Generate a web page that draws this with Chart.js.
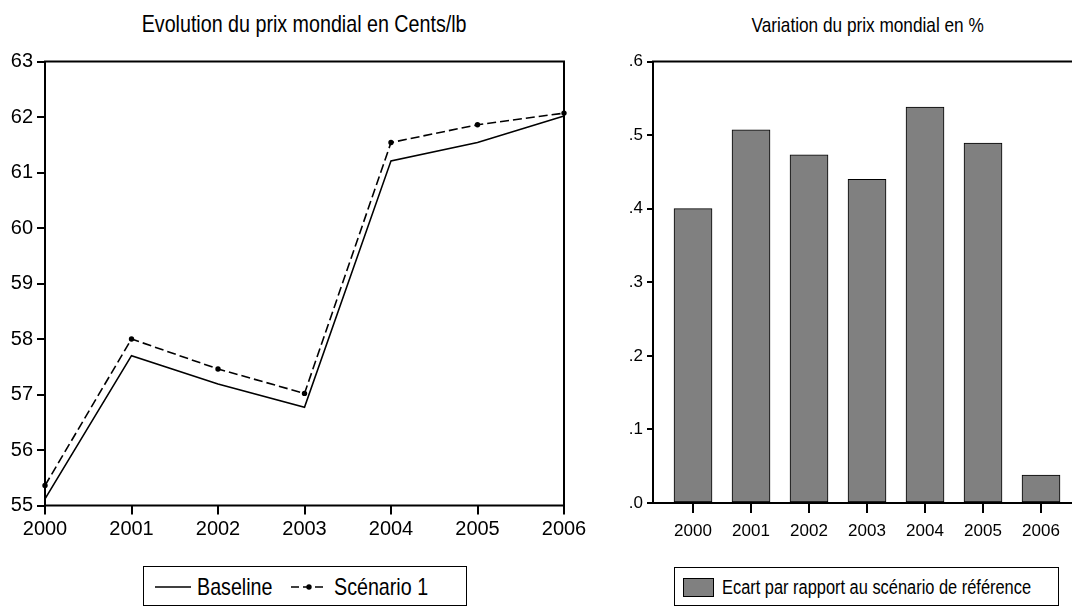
<!DOCTYPE html>
<html>
<head>
<meta charset="utf-8">
<script src="https://cdn.jsdelivr.net/npm/chart.js@4.4.1/dist/chart.umd.min.js"></script>
<style>
  html, body { margin: 0; padding: 0; background: #fff; }
  body { width: 1072px; height: 607px; position: relative; overflow: hidden;
         font-family: "Liberation Sans", Arial, sans-serif; color: #000; }
  canvas { position: absolute; top: 0; }
  .title { position: absolute; white-space: nowrap; line-height: 1; text-align: center; }
  .narrow { display: inline-block; transform: scaleX(0.82); white-space: nowrap; line-height: 1; }
  .title .narrow { transform-origin: center; }
  .legend { position: absolute; border: 1px solid #000; box-sizing: border-box; background: #fff; }
  .legend span, .legend svg, .legend i { position: absolute; }
  .legend span.narrow { transform-origin: left; }
</style>
</head>
<body>
<div class="title" style="left:45px; width:519px; top:12px; font-size:24px;"><span class="narrow">Evolution du prix mondial en Cents/lb</span></div>
<canvas id="left" width="600" height="560" style="left:0"></canvas>
<div class="legend" style="left:143px; top:566px; width:324px; height:40px;">
  <svg style="left:11px; top:19px" width="36" height="2"><line x1="0" y1="1" x2="36" y2="1" stroke="#000" stroke-width="1.5"/></svg>
  <span class="narrow" style="left:53px; top:8px; font-size:24px;">Baseline</span>
  <svg style="left:147px; top:16px" width="36" height="8"><line x1="0" y1="4" x2="36" y2="4" stroke="#000" stroke-width="1.5" stroke-dasharray="8,4"/><circle cx="18" cy="4" r="2.7" fill="#000"/></svg>
  <span class="narrow" style="left:190px; top:8px; font-size:24px;">Scénario 1</span>
</div>

<div class="title" style="left:653px; width:430px; top:14px; font-size:21px;"><span class="narrow">Variation du prix mondial en %</span></div>
<canvas id="right" width="500" height="560" style="left:590px"></canvas>
<div class="legend" style="left:674px; top:567px; width:385px; height:39px;">
  <i style="left:8px; top:10px; width:31px; height:19px; background:#808080; border:1px solid #000; box-sizing:border-box;"></i>
  <span class="narrow" style="left:47px; top:9px; font-size:20px;">Ecart par rapport au scénario de référence</span>
</div>

<script>
// ---- data ----
const years = ['2000', '2001', '2002', '2003', '2004', '2005', '2006'];
const baseline = [55.12, 57.70, 57.19, 56.77, 61.21, 61.54, 62.02];
const scenario1 = [55.36, 58.00, 57.46, 57.02, 61.54, 61.86, 62.07];
const ecart = [0.400, 0.507, 0.473, 0.440, 0.538, 0.489, 0.038];
const priceTicks = [55, 56, 57, 58, 59, 60, 61, 62, 63];
const pctTicks = [0, 0.1, 0.2, 0.3, 0.4, 0.5, 0.6];

const FONT = '"Liberation Sans", Arial, sans-serif';

// frame around the plot area, drawn over the data
const framePlugin = {
  id: 'frame',
  afterDatasetsDraw(chart) {
    const { ctx, chartArea: a } = chart;
    ctx.save();
    ctx.strokeStyle = '#000';
    ctx.lineWidth = 2;
    ctx.strokeRect(a.left, a.top, a.right - a.left, a.bottom - a.top);
    ctx.restore();
  }
};

//
// ==========  left: line chart  ==========
//
new Chart(document.getElementById('left').getContext('2d'), {
  type: 'line',
  data: {
    labels: years,
    datasets: [
      {
        label: 'Baseline',
        data: baseline,
        borderColor: '#000',
        borderWidth: 1.6,
        pointRadius: 0,
        tension: 0,
      },
      {
        label: 'Scénario 1',
        data: scenario1,
        borderColor: '#000',
        backgroundColor: '#000',
        borderWidth: 1.6,
        borderDash: [9, 4],
        pointRadius: 2.7,
        pointBorderWidth: 0,
        tension: 0,
      },
    ],
  },
  options: {
    responsive: false,
    animation: false,
    devicePixelRatio: 1,
    layout: { padding: { left: 0, right: 36, top: 61.5, bottom: 0 } },
    plugins: { legend: { display: false }, tooltip: { enabled: false }, title: { display: false } },
    scales: {
      x: {
        type: 'category',
        offset: false,
        grid: { drawOnChartArea: false, drawTicks: true, tickLength: 9, color: '#000', lineWidth: 2 },
        border: { display: false },
        ticks: { color: '#000', font: { family: FONT, size: 20 }, padding: 3, maxRotation: 0, autoSkip: false },
        afterFit(s) { s.height = 560 - 505.5; },
      },
      y: {
        min: 55,
        max: 63,
        afterBuildTicks(s) { s.ticks = priceTicks.map(v => ({ value: v })); },
        grid: { drawOnChartArea: false, drawTicks: true, tickLength: 8, color: '#000', lineWidth: 2 },
        border: { display: false },
        ticks: { color: '#000', font: { family: FONT, size: 20 }, padding: 4, callback: v => String(v) },
        afterFit(s) { s.width = 45; },
      },
    },
  },
  plugins: [framePlugin],
});

//
// ==========  right: bar chart  ==========
//
new Chart(document.getElementById('right').getContext('2d'), {
  type: 'bar',
  data: {
    datasets: [
      {
        label: 'Ecart par rapport au scénario de référence',
        data: years.map((y, i) => ({ x: Number(y), y: ecart[i] })),
        backgroundColor: '#808080',
        borderColor: '#000',
        borderWidth: 1,
        borderSkipped: false,
        barThickness: 38,
      },
    ],
  },
  options: {
    responsive: false,
    animation: false,
    devicePixelRatio: 1,
    layout: { padding: { left: 0, right: 15, top: 61.5, bottom: 0 } },
    plugins: { legend: { display: false }, tooltip: { enabled: false }, title: { display: false } },
    scales: {
      x: {
        type: 'linear',
        offset: false,
        min: 1999.31,
        max: 2006.586,
        afterBuildTicks(s) { s.ticks = years.map(v => ({ value: Number(v) })); },
        grid: { offset: false, drawOnChartArea: false, drawTicks: true, tickLength: 10, color: '#000', lineWidth: 2 },
        border: { display: false },
        ticks: { color: '#000', font: { family: FONT, size: 17 }, padding: 8, maxRotation: 0, callback: v => String(v) },
        afterFit(s) { s.height = 560 - 503; },
      },
      y: {
        min: 0,
        max: 0.6,
        afterBuildTicks(s) { s.ticks = pctTicks.map(v => ({ value: v })); },
        grid: { drawOnChartArea: false, drawTicks: true, tickLength: 6, color: '#000', lineWidth: 2 },
        border: { display: false },
        ticks: { color: '#000', font: { family: FONT, size: 17 }, padding: 4, callback: v => v.toFixed(1).replace(/^0/, '') },
        afterFit(s) { s.width = 63; },
      },
    },
  },
  plugins: [framePlugin],
});
</script>
</body>
</html>
